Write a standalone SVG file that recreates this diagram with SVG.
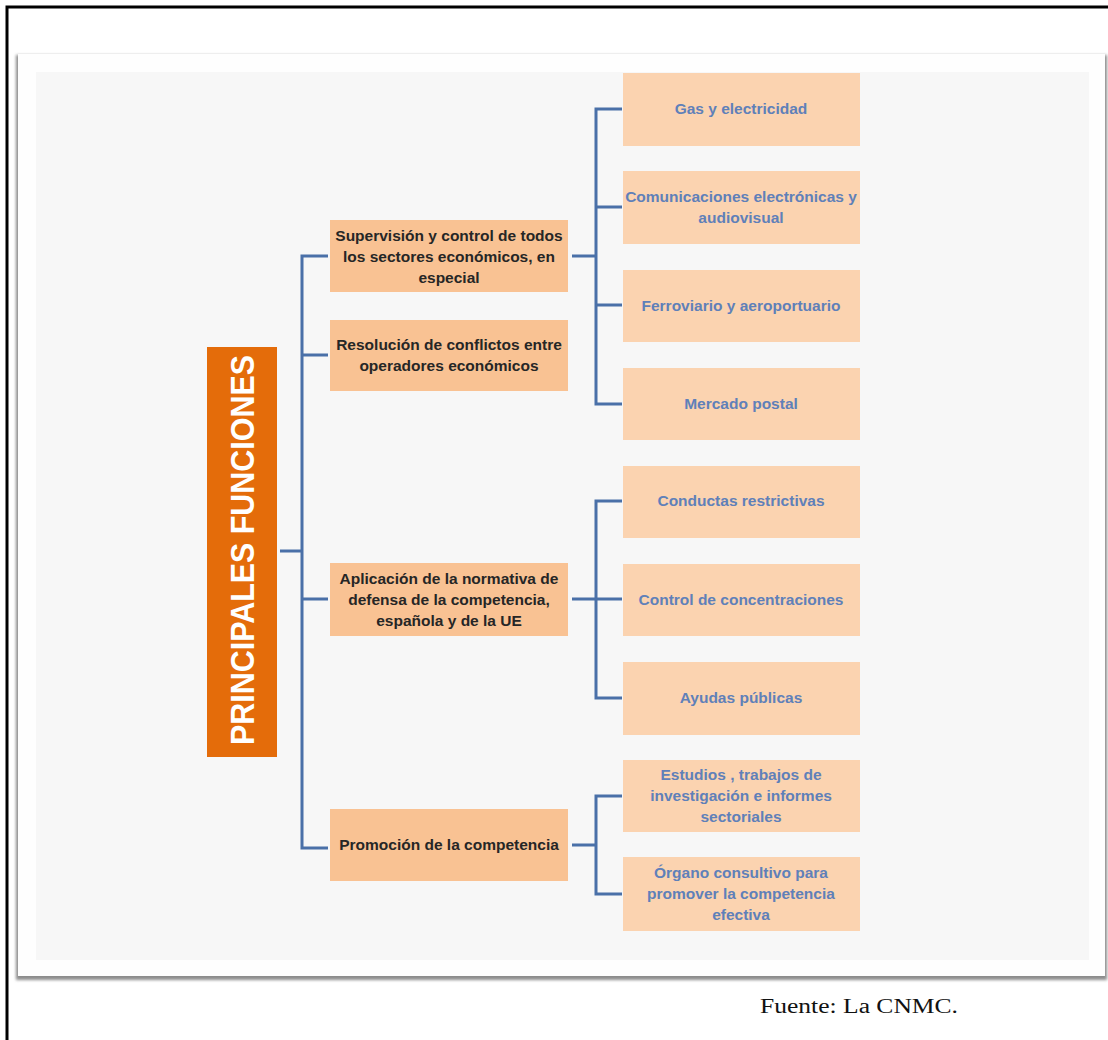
<svg xmlns="http://www.w3.org/2000/svg" width="1108" height="1040" viewBox="0 0 1108 1040">
<defs>
<filter id="sh" x="-5%" y="-5%" width="110%" height="110%"><feGaussianBlur stdDeviation="1.5"/></filter>
<style>
.mid{fill:#f9c293}
.leaf{fill:#fbd3b0}
.mt{font-family:"Liberation Sans",Arial,sans-serif;font-weight:bold;font-size:15.5px;fill:#262626;text-anchor:middle}
.lt{font-family:"Liberation Sans",Arial,sans-serif;font-weight:bold;font-size:15.5px;fill:#5f80b9;text-anchor:middle}
.con{stroke:#4a70a8;stroke-width:3;fill:none}
</style>
</defs>
<rect width="1108" height="1040" fill="#ffffff"/>
<path d="M7 1040 V7 H1108" stroke="#000" stroke-width="3" fill="none"/>
<rect x="16" y="55" width="1091" height="925" fill="#8c8c8c" filter="url(#sh)"/>
<rect x="18" y="54" width="1087" height="922" fill="#fefefe"/>
<rect x="36" y="72" width="1053" height="888" fill="#f7f7f7"/>

<g id="title">
<rect x="207" y="347" width="70" height="410" fill="#e46c0a"/>
<text transform="translate(242 550) rotate(-90)" text-anchor="middle" dominant-baseline="central" font-family="'Liberation Sans',Arial,sans-serif" font-weight="bold" font-size="33" fill="#ffffff" textLength="390" lengthAdjust="spacingAndGlyphs">PRINCIPALES FUNCIONES</text>
</g>

<g id="connectors">
<path class="con" d="M280 551 H302 M328 256 H302 V848 H328 M302 355 H328 M302 599 H328"/>
<path class="con" d="M572 256 H596 M622 109 H596 V404 H622 M596 207 H622 M596 305 H622"/>
<path class="con" d="M572 599 H622 M622 501 H596 V698 H622"/>
<path class="con" d="M572 845 H596 M622 796 H596 V894 H622"/>
</g>

<g id="n-supervision">
<rect class="mid" x="330" y="220" width="238" height="72"/>
<text class="mt" x="449" y="241">Supervisión y control de todos</text>
<text class="mt" x="449" y="262">los sectores económicos, en</text>
<text class="mt" x="449" y="283">especial</text>
</g>
<g id="n-resolucion">
<rect class="mid" x="330" y="320" width="238" height="71"/>
<text class="mt" x="449" y="350">Resolución de conflictos  entre</text>
<text class="mt" x="449" y="371">operadores económicos</text>
</g>
<g id="n-aplicacion">
<rect class="mid" x="330" y="563" width="238" height="73"/>
<text class="mt" x="449" y="584">Aplicación de la normativa  de</text>
<text class="mt" x="449" y="605">defensa de la competencia,</text>
<text class="mt" x="449" y="626">española y de la UE</text>
</g>
<g id="n-promocion">
<rect class="mid" x="330" y="809" width="238" height="72"/>
<text class="mt" x="449" y="850">Promoción de la competencia</text>
</g>

<g id="n-gas">
<rect class="leaf" x="623" y="73" width="237" height="73"/>
<text class="lt" x="741" y="114">Gas y electricidad</text>
</g>
<g id="n-comunicaciones">
<rect class="leaf" x="623" y="171" width="237" height="73"/>
<text class="lt" x="741" y="202">Comunicaciones electrónicas y</text>
<text class="lt" x="741" y="223">audiovisual</text>
</g>
<g id="n-ferroviario">
<rect class="leaf" x="623" y="270" width="237" height="72"/>
<text class="lt" x="741" y="311">Ferroviario y aeroportuario</text>
</g>
<g id="n-postal">
<rect class="leaf" x="623" y="368" width="237" height="72"/>
<text class="lt" x="741" y="409">Mercado postal</text>
</g>
<g id="n-conductas">
<rect class="leaf" x="623" y="466" width="237" height="72"/>
<text class="lt" x="741" y="506">Conductas restrictivas</text>
</g>
<g id="n-control">
<rect class="leaf" x="623" y="564" width="237" height="72"/>
<text class="lt" x="741" y="605">Control de concentraciones</text>
</g>
<g id="n-ayudas">
<rect class="leaf" x="623" y="662" width="237" height="73"/>
<text class="lt" x="741" y="703">Ayudas públicas</text>
</g>
<g id="n-estudios">
<rect class="leaf" x="623" y="760" width="237" height="72"/>
<text class="lt" x="741" y="780">Estudios , trabajos de</text>
<text class="lt" x="741" y="801">investigación e informes</text>
<text class="lt" x="741" y="822">sectoriales</text>
</g>
<g id="n-organo">
<rect class="leaf" x="623" y="857" width="237" height="74"/>
<text class="lt" x="741" y="878">Órgano consultivo para</text>
<text class="lt" x="741" y="899">promover la competencia</text>
<text class="lt" x="741" y="920">efectiva</text>
</g>

<text x="760" y="1013" font-family="'Liberation Serif','Times New Roman',serif" font-size="20" fill="#111" textLength="198" lengthAdjust="spacingAndGlyphs">Fuente: La CNMC.</text>
</svg>
